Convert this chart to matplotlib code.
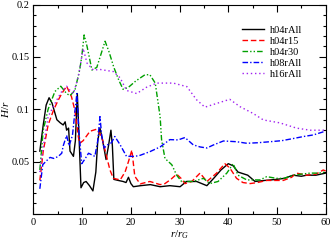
import matplotlib
matplotlib.use('Agg')
import matplotlib.pyplot as plt
from matplotlib.ticker import MultipleLocator

plt.rcParams['font.family'] = ['Liberation Serif', 'DejaVu Serif']
plt.rcParams['mathtext.fontset'] = 'custom'
plt.rcParams['mathtext.rm'] = 'Liberation Serif'
plt.rcParams['mathtext.it'] = 'Liberation Serif:italic'

# h04rAll
x_h04rall = [1.3, 2.0, 2.6, 3.2, 3.8, 4.8, 5.5, 6.1, 6.5, 6.8, 7.2, 7.5, 8.2, 8.6, 9.0,
             9.3, 9.75, 10.3, 10.8, 11.5, 12.2, 12.8, 13.2, 13.65, 14.2, 14.9, 15.4,
             15.9, 16.2, 16.5, 17.4, 18.4, 19.0, 19.5, 20.0, 20.5, 22, 24, 26, 28, 30.1,
             31.4, 33.5, 35.6, 37, 38.5, 40, 41, 42, 44, 45.5, 47.5, 49.9, 51.5, 53.3,
             55, 56.1, 58, 60]
y_h04rall = [0.060, 0.085, 0.104, 0.111, 0.106, 0.090, 0.087, 0.085, 0.088, 0.080, 0.082,
             0.060, 0.055, 0.070, 0.115, 0.080, 0.025, 0.030, 0.031, 0.027, 0.022, 0.040,
             0.070, 0.082, 0.070, 0.052, 0.065, 0.080, 0.065, 0.033, 0.032, 0.031, 0.030,
             0.035, 0.029, 0.026, 0.027, 0.028, 0.026, 0.027, 0.026, 0.031, 0.031, 0.027,
             0.034, 0.042, 0.048, 0.046, 0.040, 0.037, 0.031, 0.032, 0.033, 0.034, 0.037,
             0.036, 0.037, 0.037, 0.039]

# h04r15
x_h04r15 = [1.3, 2.0, 3.0, 4.1, 5.0, 5.8, 6.8, 7.8, 8.5, 9.2, 9.5, 10.2, 11.6, 13.0, 14.0,
            15.0, 15.7, 16.4, 17.8, 18.8, 19.5, 20.2, 20.8, 21.9, 23.9, 26, 27, 28.2, 29.4,
            30.3, 31.1, 32.5, 34.2, 35.6, 37.6, 39.3, 40.3, 41.7, 43, 44.5, 46, 47.9, 49.5,
            51.3, 53, 54, 56.1, 58, 59.5, 60]
y_h04r15 = [0.032, 0.060, 0.085, 0.099, 0.108, 0.115, 0.122, 0.112, 0.099, 0.074, 0.0675,
            0.070, 0.079, 0.081, 0.074, 0.055, 0.042, 0.034, 0.0325, 0.040, 0.050, 0.061,
            0.036, 0.0287, 0.031, 0.028, 0.029, 0.033, 0.038, 0.034, 0.029, 0.031, 0.039,
            0.031, 0.039, 0.048, 0.044, 0.034, 0.030, 0.029, 0.030, 0.032, 0.032, 0.032,
            0.035, 0.039, 0.037, 0.038, 0.042, 0.041]

# h04r30
x_h04r30 = [1.3, 2.0, 3.0, 4.4, 5.6, 6.8, 7.5, 8.5, 9.5, 9.9, 10.4, 11.0, 12.0, 13.0, 14.7,
            15.5, 16.5, 17.5, 18.4, 19.5, 21, 22.9, 23.9, 25.0, 26.0, 26.3, 27.0, 28.4,
            29.4, 30.4, 31.5, 32.8, 34.9, 36.2, 37.9, 39.7, 41.0, 42.0, 43.8, 46.5, 47.9,
            49.9, 51.5, 53.3, 55, 56.8, 58.5, 60]
y_h04r30 = [0.042, 0.080, 0.100, 0.117, 0.122, 0.115, 0.113, 0.118, 0.138, 0.150, 0.171,
            0.160, 0.1375, 0.140, 0.165, 0.155, 0.140, 0.128, 0.119, 0.121, 0.127, 0.133,
            0.133, 0.125, 0.093, 0.071, 0.053, 0.047, 0.037, 0.031, 0.031, 0.031, 0.034,
            0.029, 0.031, 0.039, 0.048, 0.037, 0.0325, 0.0325, 0.0356, 0.034, 0.034, 0.037,
            0.038, 0.039, 0.039, 0.040]

# h08rAll
x_h08rall = [1.3, 1.9, 2.5, 3.4, 4.2, 5.1, 5.8, 6.1, 6.8, 7.3, 8.0, 8.9, 9.3, 9.9, 10.5,
             11.3, 12.6, 13.2, 13.65, 14.0, 14.5, 15.2, 16.0, 16.7, 17.8, 19.1, 20.8, 21.9,
             23.9, 26, 28, 29.7, 31.1, 32.8, 34.2, 35.6, 37, 39, 41.7, 43.8, 46, 48.6, 51,
             53.3, 55.5, 57.5, 59.9]
y_h08rall = [0.024, 0.047, 0.050, 0.054, 0.053, 0.055, 0.058, 0.065, 0.075, 0.065, 0.075,
             0.115, 0.080, 0.048, 0.052, 0.058, 0.055, 0.070, 0.093, 0.075, 0.063, 0.066,
             0.068, 0.074, 0.066, 0.055, 0.055, 0.056, 0.0595, 0.064, 0.071, 0.0707, 0.073,
             0.066, 0.064, 0.063, 0.066, 0.0697, 0.069, 0.0675, 0.068, 0.069, 0.070, 0.072,
             0.074, 0.0755, 0.079]

# h16rAll
x_h16rall = [1.3, 1.7, 3.0, 4.8, 5.8, 6.8, 7.5, 8.2, 9.2, 10.2, 11.0, 12.3, 13.7, 16.4,
             17.8, 19.1, 21.2, 23.2, 25.3, 28.7, 31.5, 33.5, 35.2, 37.9, 40.3, 42.4, 45.1,
             47.2, 50.6, 54.0, 56.8, 60]
y_h16rall = [0.040, 0.055, 0.093, 0.109, 0.117, 0.122, 0.118, 0.115, 0.131, 0.158, 0.144,
             0.1375, 0.138, 0.136, 0.130, 0.118, 0.115, 0.121, 0.125, 0.125, 0.1216, 0.109,
             0.102, 0.106, 0.1095, 0.1025, 0.096, 0.0898, 0.087, 0.082, 0.080, 0.080]

fig = plt.figure(figsize=(3.33, 2.42), dpi=100)
ax = fig.add_axes([0.1006, 0.116, 0.8774, 0.865])

ax.plot(x_h04rall, y_h04rall, color='black', lw=1.0, label='h04rAll')
ax.plot(x_h04r15, y_h04r15, color='#ff0000', lw=1.0, dashes=(4, 2), label='h04r15')
ax.plot(x_h04r30, y_h04r30, color='#00a000', lw=1.0, dashes=(4, 1.5, 1, 1.5, 1, 1.5),
        label='h04r30')
ax.plot(x_h08rall, y_h08rall, color='#0000ff', lw=1.0, dashes=(4, 1.5, 1, 1.5),
        label='h08rAll')
ax.plot(x_h16rall, y_h16rall, color='#a020f0', lw=1.0, dashes=(1, 2), label='h16rAll')

ax.set_xlim(0, 60)
ax.set_ylim(0, 0.2)
ax.xaxis.set_major_locator(MultipleLocator(10))
ax.xaxis.set_minor_locator(MultipleLocator(5))
ax.set_yticks([0, 0.05, 0.1, 0.15, 0.2], ['', '0.05', '0.1', '0.15', '0.2'])
ax.yaxis.set_minor_locator(MultipleLocator(0.01))
ax.tick_params(which='both', direction='in', top=True, right=True, labelsize=7.5,
               width=0.8, pad=3)
ax.tick_params(which='major', length=5)
ax.tick_params(which='minor', length=2.5)
for s in ax.spines.values():
    s.set_linewidth(0.8)

ax.set_xlabel('$r/r_G$', fontsize=8, labelpad=1)
ax.set_ylabel('$H/r$', fontsize=8)
ax.yaxis.set_label_coords(-0.077, 0.5)

ax.legend(loc='upper left', bbox_to_anchor=(0.714, 0.90), frameon=False, fontsize=7.5,
          handlelength=2.1, handletextpad=0.6, labelspacing=0.17, borderpad=0,
          borderaxespad=0)

fig.savefig('out.png', dpi=100)
